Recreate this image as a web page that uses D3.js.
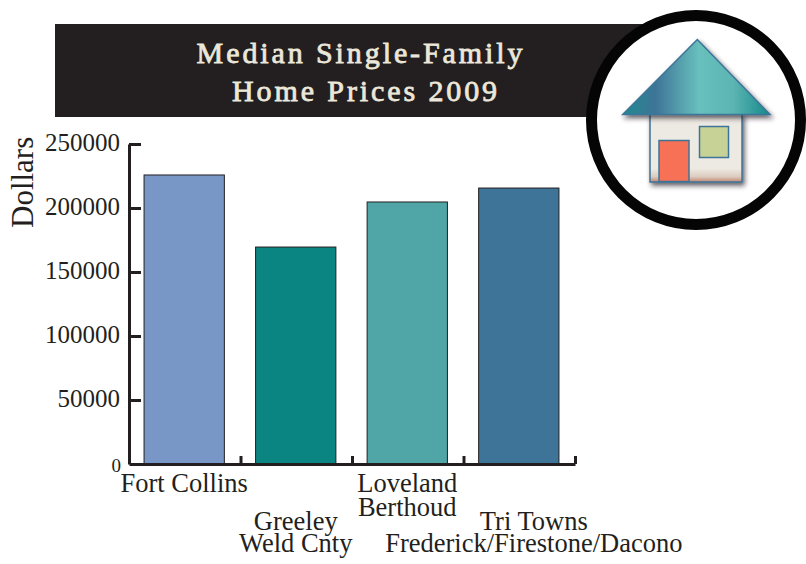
<!DOCTYPE html>
<html lang="en">
<head>
  <meta charset="UTF-8">
  <title>Median Single-Family Home Prices 2009</title>
  <script src="https://d3js.org/d3.v7.min.js"></script>
  <style>
    body { margin: 0; background: #fff; }
    svg { display: block; font-family: "Liberation Serif", serif; }
    .axis path, .axis line { stroke: #231f20; stroke-width: 3; }
    .axis text { font-family: "Liberation Serif", serif; font-size: 25px; fill: #231f20; }
  </style>
</head>
<body>
  <div id="chart"></div>

  <script>
    const categories = ["Fort Collins", "Greeley", "Loveland", "Tri Towns"];
    const labelLines = [
      ["Fort Collins"],
      ["Greeley", "Weld Cnty"],
      ["Loveland", "Berthoud"],
      ["Tri Towns", "Frederick/Firestone/Dacono"]
    ];
    const prices = [225800, 169500, 204700, 215600];
    const barColors = ["#7896c6", "#0b8582", "#50a5a6", "#3e7498"];
    const yTicks = [0, 50000, 100000, 150000, 200000, 250000];
    const titleLines = ["Median Single-Family", "Home Prices 2009"];

    const width = 806, height = 564;
    const axisLeft = 129, axisRight = 575, axisTop = 144, axisBottom = 464;

    const svg = d3.select("#chart").append("svg")
      .attr("width", width)
      .attr("height", height);

    const x = d3.scaleBand()
      .domain(categories)
      .range([axisLeft, axisRight - 1])
      .paddingInner(0.28)
      .paddingOuter(0.135)
      .align(0.5);

    const y = d3.scaleLinear()
      .domain([0, 250000])
      .range([axisBottom, axisTop]);

    // title band
    svg.append("rect")
      .attr("x", 55).attr("y", 24)
      .attr("width", 600).attr("height", 93)
      .attr("fill", "#231f20");

    svg.append("g").selectAll("text")
      .data(titleLines)
      .join("text")
      .attr("x", (d, i) => i ? 366 : 361)
      .attr("y", (d, i) => 63 + i * 38)
      .attr("text-anchor", "middle")
      .attr("fill", "#ebe7d9")
      .attr("stroke", "#ebe7d9")
      .attr("stroke-width", 0.8)
      .style("font-size", "30px")
      .style("letter-spacing", "2.9px")
      .text(d => d);

    // bars
    svg.append("g").selectAll("rect")
      .data(prices)
      .join("rect")
      .attr("x", (d, i) => x(categories[i]))
      .attr("y", d => y(d))
      .attr("width", x.bandwidth())
      .attr("height", d => y(0) - y(d))
      .attr("fill", (d, i) => barColors[i])
      .attr("stroke", "#231f20")
      .attr("stroke-width", 1);

    // y axis, ticks point inward
    const yAxis = svg.append("g")
      .attr("class", "axis")
      .attr("transform", `translate(${axisLeft},0)`)
      .call(d3.axisLeft(y).tickValues(yTicks).tickSize(-12).tickSizeOuter(0).tickPadding(9).tickFormat(d => d));
    yAxis.select(".domain").attr("fill", "none");
    yAxis.selectAll("text").attr("dy", "0.26em");
    yAxis.selectAll(".tick").filter(d => d === 0).select("text")
      .style("font-size", "19px").attr("x", -8).attr("dy", "0.42em");
    yAxis.selectAll(".tick").filter(d => d === 0).select("line").remove();

    // x axis has ticks on the boundaries between the bars
    const xEdges = d3.scaleLinear().domain([0, categories.length]).range([axisLeft, axisRight]);
    const xAxis = svg.append("g")
      .attr("class", "axis")
      .attr("transform", `translate(0,${axisBottom})`)
      .call(d3.axisBottom(xEdges).tickValues([1, 2, 3, 4]).tickSize(-8).tickSizeOuter(0).tickFormat(""));
    xAxis.select(".domain").attr("fill", "none");

    // category labels, every second one pushed down
    const labels = svg.append("g").selectAll("text")
      .data(labelLines)
      .join("text")
      .attr("text-anchor", "middle")
      .attr("fill", "#231f20")
      .style("font-size", "26.5px");
    labels.selectAll("tspan")
      .data((d, i) => d.map((line, j) => ({ line, j, i })))
      .join("tspan")
      .attr("x", d => x(categories[d.i]) + x.bandwidth() / 2 + (d.i === 3 ? 15 : 0))
      .attr("y", d => (d.i % 2 ? 530 : 492) + d.j * (d.i % 2 ? 22 : 24))
      .text(d => d.line);

    svg.append("text")
      .attr("transform", "translate(33,228) rotate(-90)")
      .attr("fill", "#231f20")
      .style("font-size", "31px")
      .text("Dollars");

    // house badge
    const defs = svg.append("defs");
    const roofGrad = defs.append("linearGradient").attr("id", "roof");
    [[0, "#1f8a8e"], [0.22, "#3e7498"], [0.52, "#68c0bd"], [0.75, "#5cb5b2"], [1, "#14888a"]].forEach(s =>
      roofGrad.append("stop").attr("offset", s[0]).attr("stop-color", s[1]));
    const wallGrad = defs.append("linearGradient").attr("id", "wall").attr("x2", 0).attr("y2", 1);
    [[0, "#edeae3"], [0.8, "#edeae3"], [0.92, "#ddccc0"], [1, "#bf8572"]].forEach(s =>
      wallGrad.append("stop").attr("offset", s[0]).attr("stop-color", s[1]));
    const shadow = defs.append("filter").attr("id", "shadow")
      .attr("x", "-10%").attr("y", "-10%").attr("width", "125%").attr("height", "125%");
    shadow.append("feDropShadow")
      .attr("dx", 2).attr("dy", 3).attr("stdDeviation", 2.5)
      .attr("flood-color", "#231f20").attr("flood-opacity", 0.7);

    svg.append("circle")
      .attr("cx", 696).attr("cy", 120).attr("r", 104.5)
      .attr("fill", "#fff").attr("stroke", "#050505").attr("stroke-width", 11);

    const house = svg.append("g").attr("stroke", "#3e7498").attr("stroke-width", 1.5);
    house.append("rect")
      .attr("x", 650).attr("y", 114).attr("width", 92).attr("height", 68)
      .attr("fill", "url(#wall)").attr("filter", "url(#shadow)");
    house.append("path")
      .attr("d", "M697.3,39.5L770,114.5H622.7Z")
      .attr("fill", "url(#roof)").attr("filter", "url(#shadow)");
    house.append("rect")
      .attr("x", 659).attr("y", 140.5).attr("width", 30).attr("height", 41)
      .attr("fill", "#f67155");
    house.append("rect")
      .attr("x", 699.5).attr("y", 126.5).attr("width", 29).attr("height", 31)
      .attr("fill", "#c7d296");
  </script>
</body>
</html>
